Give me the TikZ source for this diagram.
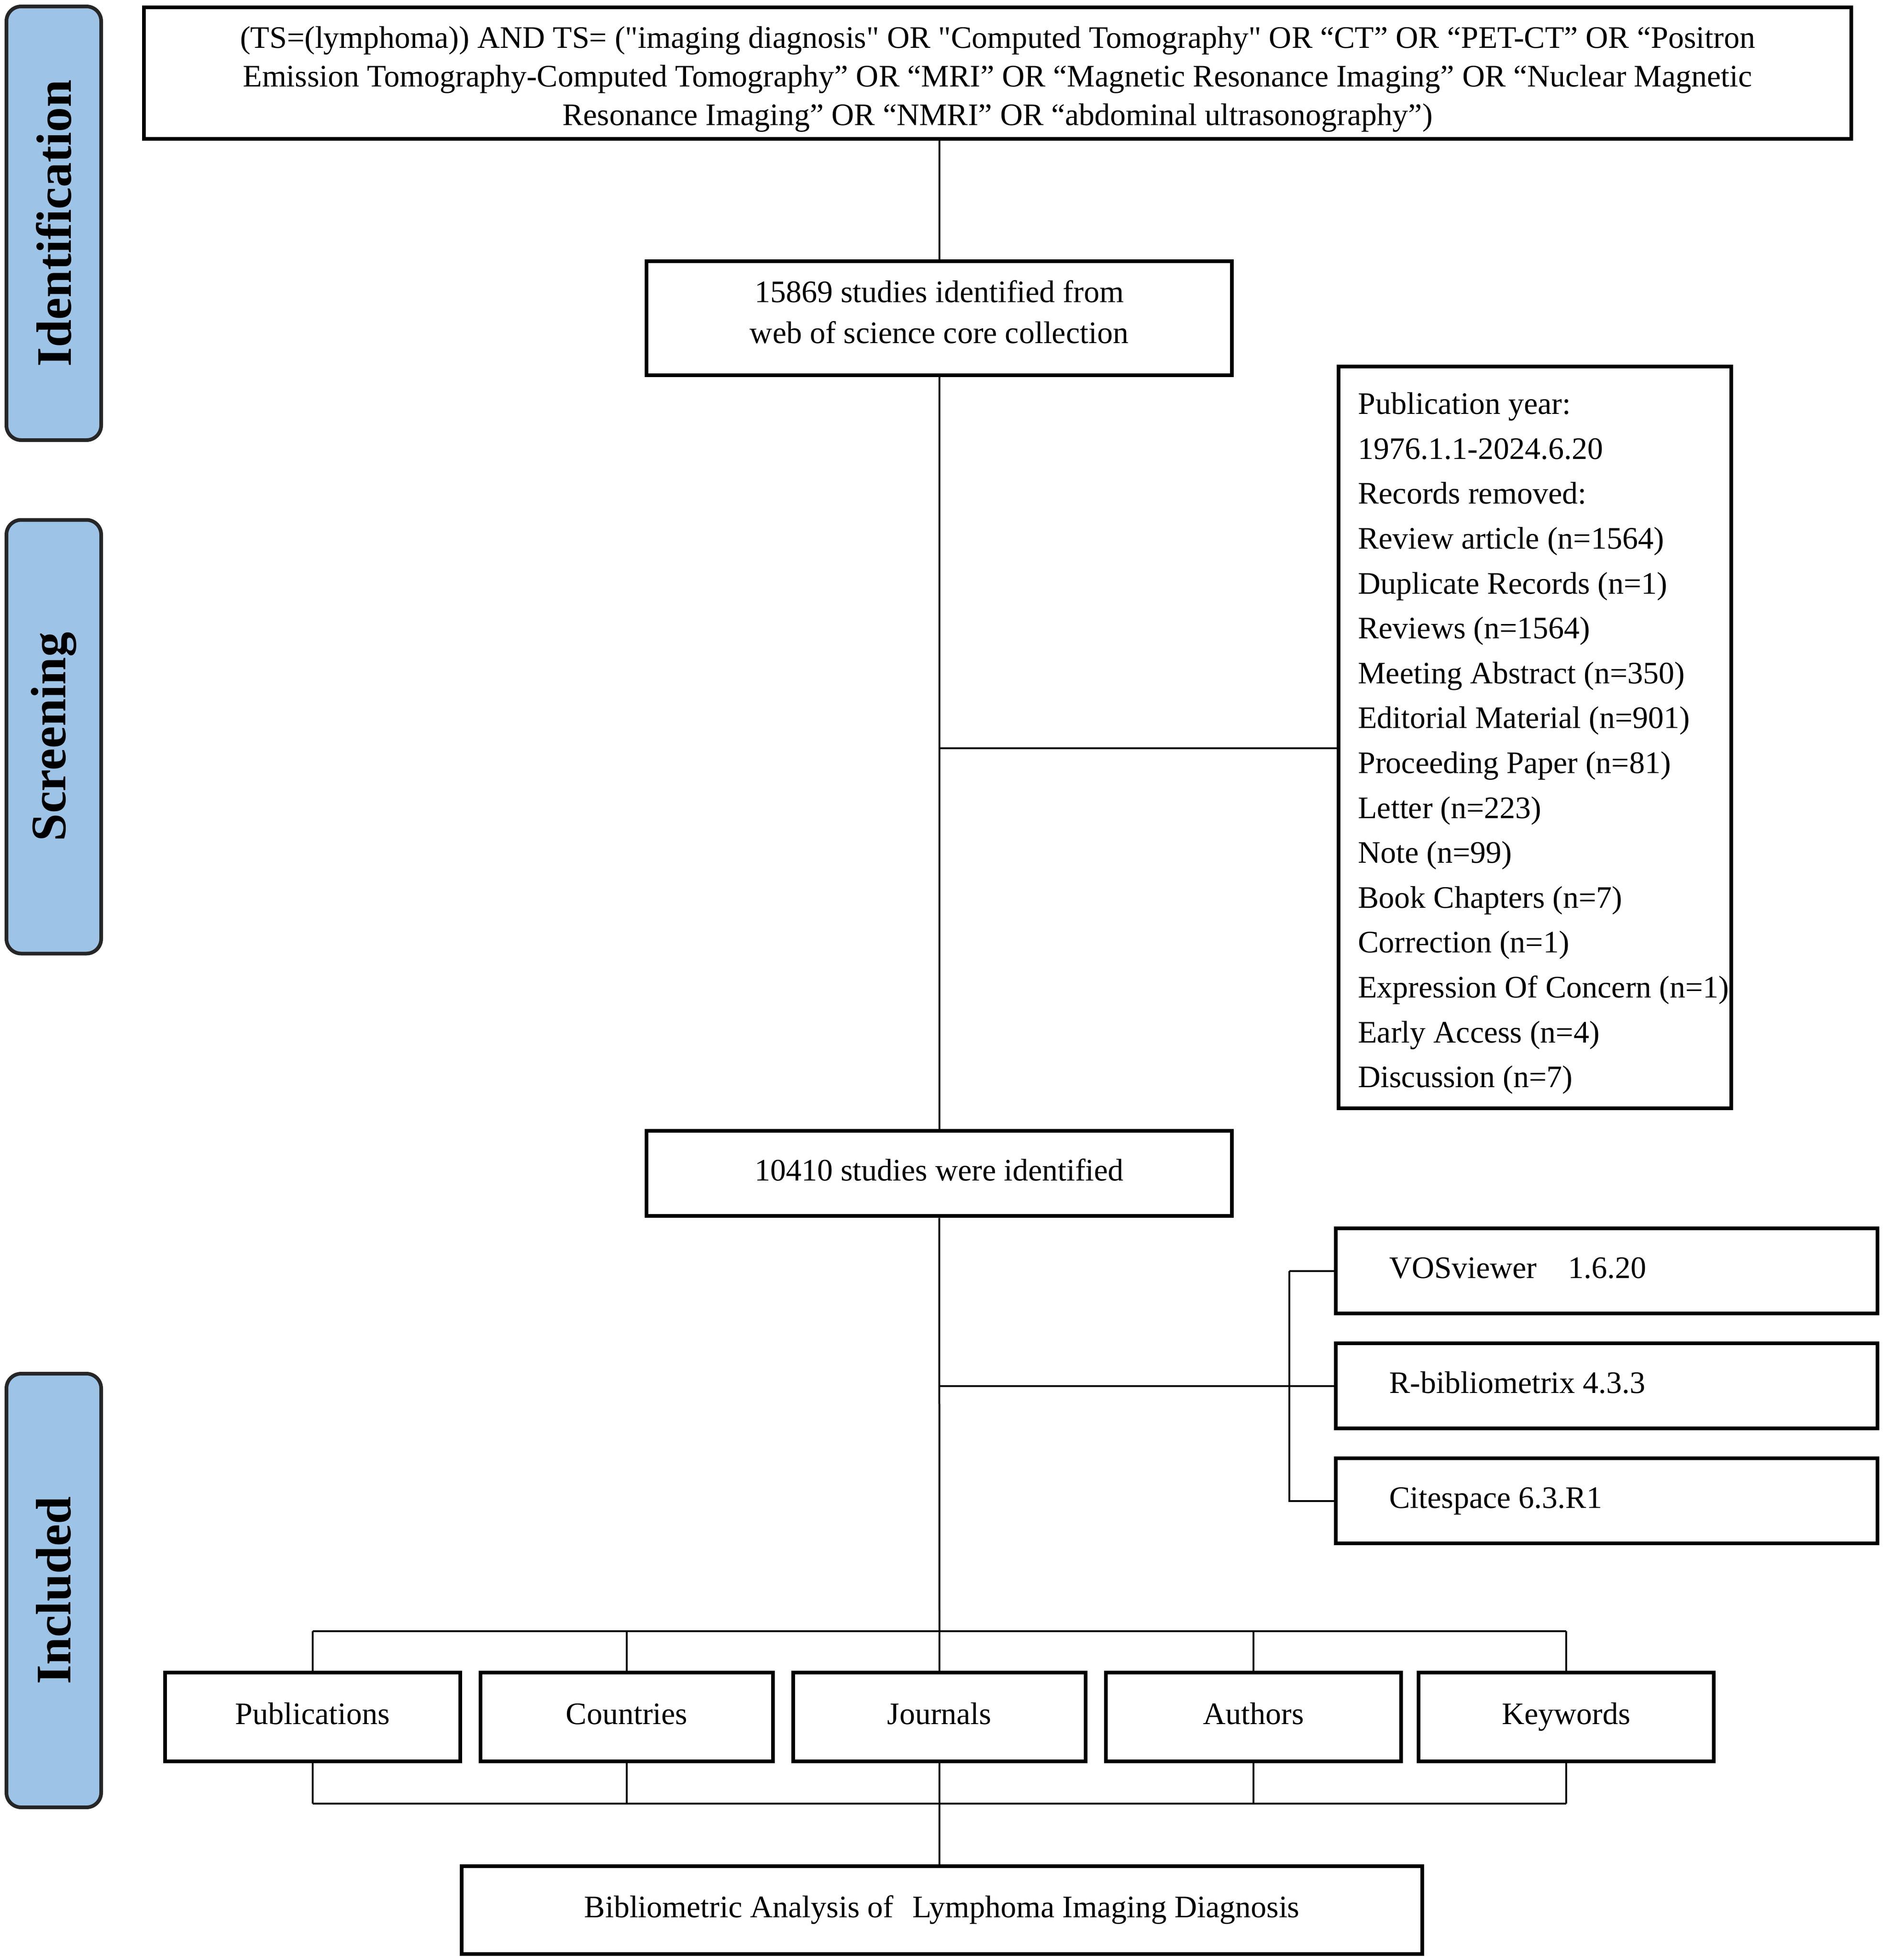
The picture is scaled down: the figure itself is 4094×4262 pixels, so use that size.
\documentclass[tikz,border=0pt]{standalone}
\usepackage{fontspec}
\setmainfont{Liberation Serif}
\newfontfamily\plainserif{Liberation Serif}
\begin{document}
\begin{tikzpicture}[x=0.25pt,y=-0.25pt,
  box/.style={draw=black,line width=2.2pt,fill=white,inner sep=0pt,font=\fontsize{17}{21}\selectfont,align=center},
  onel/.style={text height=12pt,text depth=4pt},
  pill/.style={draw=black!85,line width=2pt,fill=pillblue,rounded corners=8pt,minimum width=51.5pt,minimum height=235.75pt,inner sep=0pt},
  pilltext/.style={rotate=90,font=\fontsize{27}{30}\selectfont\bfseries},
  conn/.style={draw=black,line width=1pt},
  txt/.style={font=\fontsize{17}{21}\selectfont,inner sep=0pt}]
\definecolor{pillblue}{HTML}{9DC3E6}
\useasboundingbox (0,0) rectangle (4094,4262);
% side pills
\node[pill] (pid) at (117,485.5) {};
\node[pilltext] at (pid.center) {Identification};
\node[pill] (psc) at (117,1602) {};
\node[pilltext] at (psc.center) {Screening};
\node[pill] (pin) at (117,3458.5) {};
\node[pilltext] at (pin.center) {Included};
% boxes
\node[box,minimum width=928.25pt,minimum height=71.5pt] (top) at (2169.5,159) {};
\node[txt,align=center,font=\fontsize{17}{21}\plainserif] (toptext) at ([yshift=-3.4pt]top.center)
 {(TS=(lymphoma)) AND TS= ("imaging diagnosis" OR "Computed Tomography" OR “CT” OR “PET-CT” OR “Positron\\
  Emission Tomography-Computed Tomography” OR “MRI” OR “Magnetic Resonance Imaging” OR “Nuclear Magnetic\\
  Resonance Imaging” OR “NMRI” OR “abdominal ultrasonography”)};
\node[box,minimum width=318.25pt,minimum height=62pt] (b1) at (2042.5,692) {};
\node[txt,align=center,font=\fontsize{17}{22.4}\selectfont] (b1text) at ([yshift=3.4pt]b1.center)
 {15869 studies identified from\\ web of science core collection};
\node[box,minimum width=213.5pt,minimum height=403.25pt] (pub) at (3338,1603.5) {};
\node[txt,anchor=west,align=left,font=\fontsize{17}{24.4}\selectfont] (pubtext) at ([xshift=11.5pt,yshift=-3.2pt]pub.west)
 {Publication year:\\
  1976.1.1-2024.6.20\\
  Records removed:\\
  Review article (n=1564)\\
  Duplicate Records (n=1)\\
  Reviews (n=1564)\\
  Meeting Abstract (n=350)\\
  Editorial Material (n=901)\\
  Proceeding Paper (n=81)\\
  Letter (n=223)\\
  Note (n=99)\\
  Book Chapters (n=7)\\
  Correction (n=1)\\
  Expression Of Concern (n=1)\\
  Early Access (n=4)\\
  Discussion (n=7)};
\node[box,onel,minimum width=318.25pt,minimum height=46.25pt] (b2) at (2042.5,2551.5) {10410 studies were identified};
\node[box,minimum width=294.5pt,minimum height=46.25pt] (vos) at (3494,2763.5) {};
\node[txt,onel,anchor=west] at ([xshift=30pt]vos.west) {VOSviewer\hspace{1em}1.6.20};
\node[box,minimum width=294.5pt,minimum height=46.25pt] (rbib) at (3494,3013.5) {};
\node[txt,onel,anchor=west] at ([xshift=30pt]rbib.west) {R-bibliometrix 4.3.3};
\node[box,minimum width=294.5pt,minimum height=46.25pt] (cite) at (3494,3263.5) {};
\node[txt,onel,anchor=west] at ([xshift=30pt]cite.west) {Citespace 6.3.R1};
\node[box,onel,minimum width=160.5pt,minimum height=48.25pt] (c1) at (680,3733.5) {Publications};
\node[box,onel,minimum width=159pt,minimum height=48.25pt] (c2) at (1363,3733.5) {Countries};
\node[box,onel,minimum width=159pt,minimum height=48.25pt] (c3) at (2043,3733.5) {Journals};
\node[box,onel,minimum width=160.5pt,minimum height=48.25pt] (c4) at (2726,3733.5) {Authors};
\node[box,onel,minimum width=160.5pt,minimum height=48.25pt] (c5) at (3406,3733.5) {Keywords};
\node[box,onel,minimum width=522.25pt,minimum height=47.75pt] (fin) at (2048.5,4153.5) {Bibliometric Analysis of\hspace{0.6em}Lymphoma Imaging Diagnosis};
% connectors
\coordinate (brpub) at (2043,1627);
\coordinate (brsoft) at (2043,3013.5);
\coordinate (bk) at (2804,3013.5);
\coordinate (bustop) at (2043,3547);
\coordinate (busbot) at (2043,3922);
\draw[conn] (b1.north |- top.south) -- (b1.north);
\draw[conn] (b1.south) -- (b2.north);
\draw[conn] (brpub) -- (brpub -| pub.west);
\draw[conn] (b2.south) -- (bustop);
\draw[conn] (brsoft) -- (rbib.west);
\draw[conn] (bk |- vos.west) -- (vos.west);
\draw[conn] (bk |- vos.west) -- (bk |- cite.west) -- (cite.west);
\draw[conn] (c1.north |- bustop) -- (c5.north |- bustop);
\foreach \c in {c1,c2,c3,c4,c5} {\draw[conn] (\c.north |- bustop) -- (\c.north); \draw[conn] (\c.south) -- (\c.south |- busbot);}
\draw[conn] (c1.south |- busbot) -- (c5.south |- busbot);
\draw[conn] (busbot) -- (busbot |- fin.north);
\end{tikzpicture}
\end{document}
